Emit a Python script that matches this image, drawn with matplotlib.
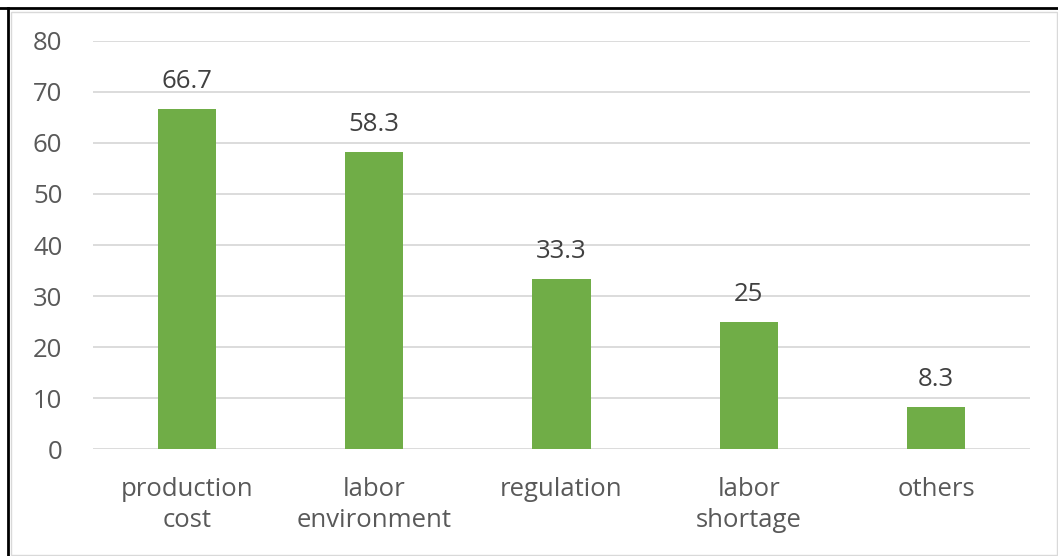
import matplotlib.pyplot as plt
from matplotlib.lines import Line2D
from matplotlib.patches import Rectangle

categories = ['production\ncost', 'labor\nenvironment', 'regulation', 'labor\nshortage', 'others']
values = [66.7, 58.3, 33.3, 25, 8.3]
labels = ['66.7', '58.3', '33.3', '25', '8.3']
yticks = [0, 10, 20, 30, 40, 50, 60, 70, 80]

plt.rcParams['font.family'] = ['Open Sans', 'DejaVu Sans']

fig = plt.figure(figsize=(10.58, 5.56), dpi=100)
ax = fig.add_axes([0.0879, 0.1924, 0.8856, 0.7339])

x = list(range(len(categories)))
ax.bar(x, values, width=0.31, color='#70AD47', zorder=3)
for xi, v, t in zip(x, values, labels):
    ax.annotate(t, (xi, v), xytext=(0, 15), textcoords='offset points',
                ha='center', va='baseline', fontsize=18.5, color='#404040')

ax.set_xlim(-0.5, len(categories) - 0.5)
ax.set_ylim(0, 80)
ax.set_yticks(yticks)
ax.set_xticks(x)
ax.set_xticklabels(categories, fontsize=18.5, color='#595959', linespacing=1.32)
ax.tick_params(axis='y', labelsize=18.5, labelcolor='#595959', length=0, pad=22)
ax.tick_params(axis='x', length=0, pad=20)
ax.grid(axis='y', color='#D9D9D9', lw=1.3, zorder=0)
for s in ax.spines.values():
    s.set_visible(False)

# page frame
fig.add_artist(Line2D([0, 1], [1 - 7.5 / 556] * 2, transform=fig.transFigure, color='black', lw=2))
fig.add_artist(Line2D([7.5 / 1058] * 2, [0, 1 - 7.5 / 556], transform=fig.transFigure, color='black', lw=2))
fig.add_artist(Rectangle((10.5 / 1058, 1.5 / 556), 1 - 12 / 1058, 1 - 13 / 556,
                         transform=fig.transFigure, fill=False, ec='#D9D9D9', lw=1))

fig.savefig('out.png', dpi=100)
